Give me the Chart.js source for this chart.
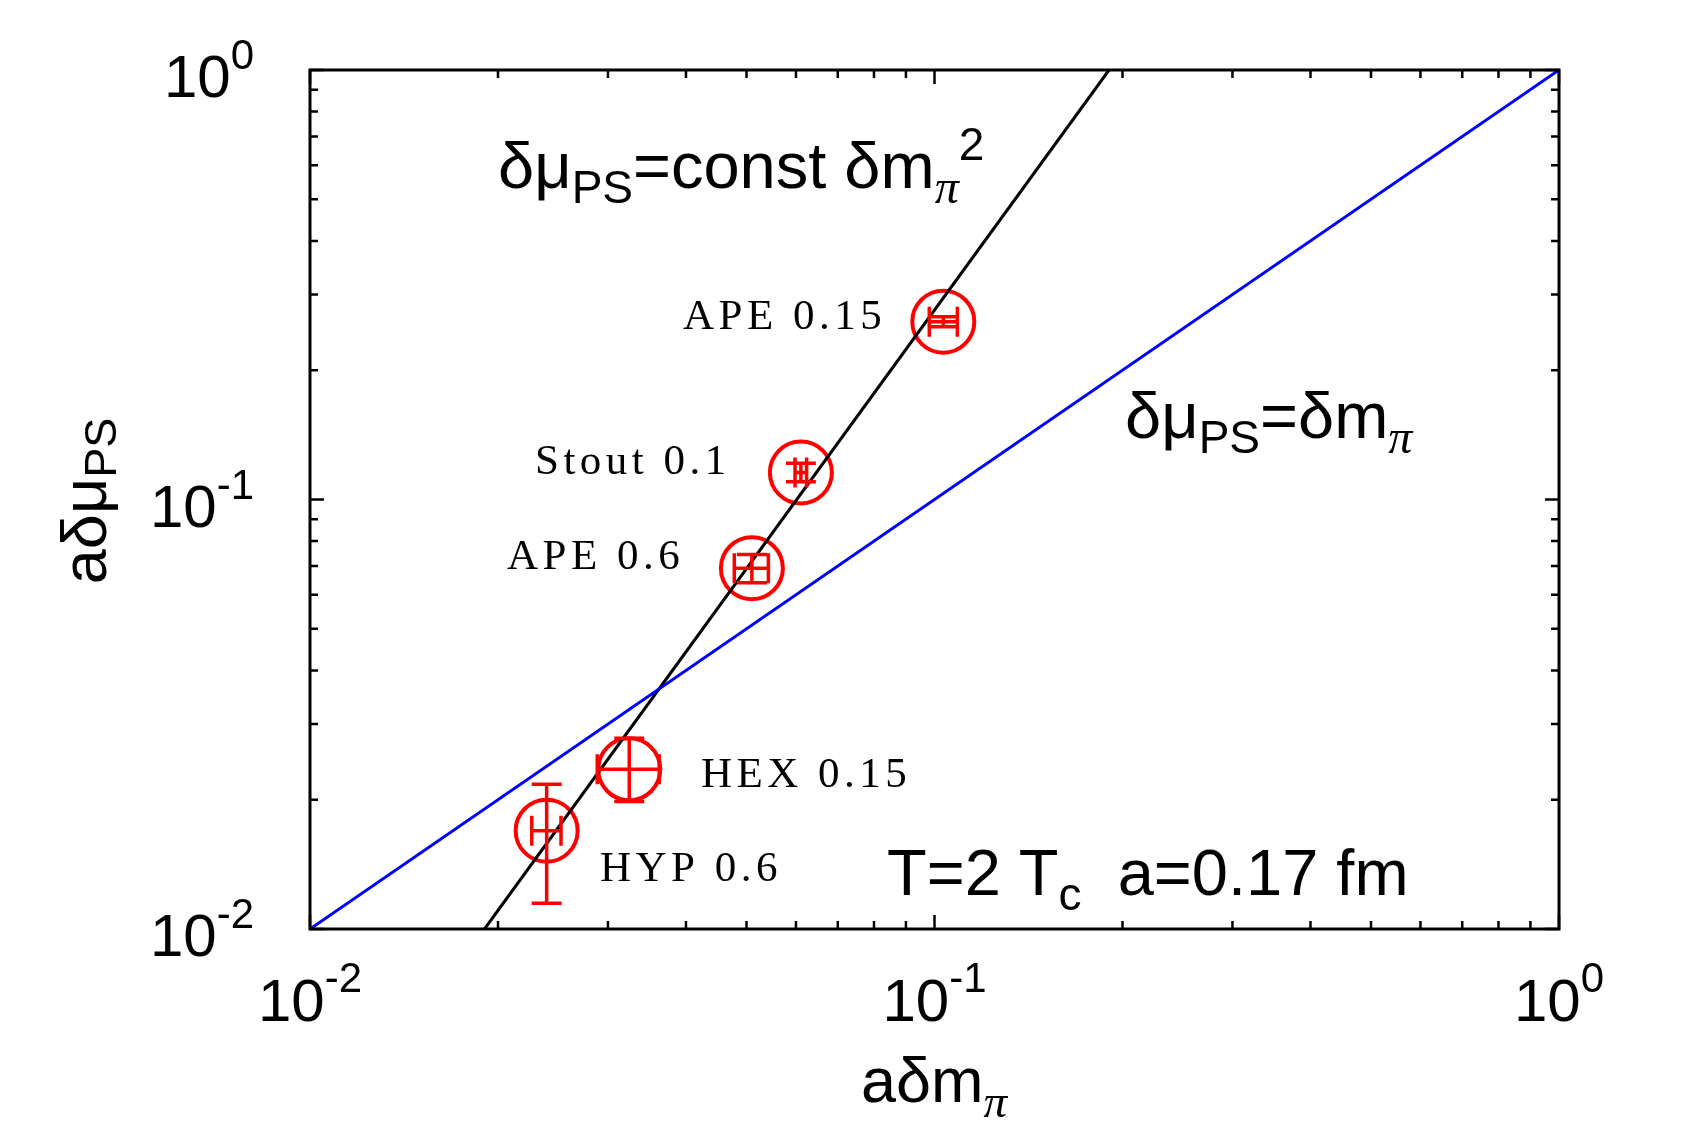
<!DOCTYPE html>
<html>
<head>
<meta charset="utf-8">
<script src="https://cdn.jsdelivr.net/npm/chart.js@4/dist/chart.umd.min.js"></script>
<style>
  html, body { margin: 0; padding: 0; background: #ffffff; }
  #wrap { width: 1691px; height: 1125px; }
</style>
</head>
<body>
<div id="wrap"><canvas id="c" width="1691" height="1125"></canvas></div>
<script>
// ---- data ----
const pointNames = ['APE 0.15', 'Stout 0.1', 'APE 0.6', 'HEX 0.15', 'HYP 0.6'];
const dmPi      = [0.1033, 0.0611, 0.0510, 0.03245, 0.02393];
const dmPiLo    = [0.0981, 0.0598, 0.0478, 0.02884, 0.02265];
const dmPiHi    = [0.1088, 0.0624, 0.0542, 0.03625, 0.02523];
const dmuPS     = [0.2594, 0.1156, 0.0692, 0.02354, 0.01694];
const dmuPSLo   = [0.2525, 0.1100, 0.0640, 0.0198, 0.01148];
const dmuPSHi   = [0.2665, 0.1215, 0.0745, 0.0278, 0.02172];

const equalLineX = [0.01, 1];
const equalLineY = [0.01, 1];
const quadLineX  = [0.01903, 0.1903];
const quadLineY  = [0.01, 1.0];

const majorTicks = [0.01, 0.1, 1];
const tickExponents = ['-2', '-1', '0'];
const minorMultipliers = [2, 3, 4, 5, 6, 7, 8, 9];

// ---- styles / layout ----
const SANS = '"Liberation Sans", Arial, sans-serif';
const SERIF = '"Liberation Serif", "Times New Roman", serif';
const RED = '#ff0000';

const pointLabelPos = [
  { x: 683, y: 329 },
  { x: 535, y: 474 },
  { x: 507, y: 569 },
  { x: 701, y: 787 },
  { x: 600, y: 881 }
];

function drawRuns(ctx, x, y, runs, align) {
  let total = 0;
  runs.forEach(r => { ctx.font = r.font; total += ctx.measureText(r.t).width + (r.gap || 0); });
  let cx = x;
  if (align === 'center') cx = x - total / 2;
  else if (align === 'right') cx = x - total;
  runs.forEach(r => {
    ctx.font = r.font;
    ctx.fillText(r.t, cx, y + (r.dy || 0));
    cx += ctx.measureText(r.t).width + (r.gap || 0);
  });
}

const decorPlugin = {
  id: 'decor',
  afterDatasetsDraw(chart) {
    const ctx = chart.ctx;
    const xs = chart.scales.x, ys = chart.scales.y;
    const a = chart.chartArea;
    ctx.save();

    // error bars
    ctx.strokeStyle = RED;
    ctx.lineWidth = 3.5;
    const cap = 15;
    for (let i = 0; i < dmPi.length; i++) {
      const px = xs.getPixelForValue(dmPi[i]);
      const py = ys.getPixelForValue(dmuPS[i]);
      const xl = xs.getPixelForValue(dmPiLo[i]);
      const xh = xs.getPixelForValue(dmPiHi[i]);
      const yl = ys.getPixelForValue(dmuPSLo[i]);
      const yh = ys.getPixelForValue(dmuPSHi[i]);
      ctx.beginPath();
      ctx.moveTo(xl, py); ctx.lineTo(xh, py);
      ctx.moveTo(xl, py - cap); ctx.lineTo(xl, py + cap);
      ctx.moveTo(xh, py - cap); ctx.lineTo(xh, py + cap);
      ctx.moveTo(px, yl); ctx.lineTo(px, yh);
      ctx.moveTo(px - cap, yl); ctx.lineTo(px + cap, yl);
      ctx.moveTo(px - cap, yh); ctx.lineTo(px + cap, yh);
      ctx.stroke();
    }

    // frame
    ctx.strokeStyle = '#000';
    ctx.lineWidth = 3;
    ctx.strokeRect(a.left, a.top, a.right - a.left, a.bottom - a.top);

    // ticks
    ctx.lineWidth = 2.5;
    const majLen = 14, minLen = 8;
    const drawTickX = (v, len) => {
      const p = xs.getPixelForValue(v);
      ctx.beginPath();
      ctx.moveTo(p, a.bottom); ctx.lineTo(p, a.bottom - len);
      ctx.moveTo(p, a.top); ctx.lineTo(p, a.top + len);
      ctx.stroke();
    };
    const drawTickY = (v, len) => {
      const p = ys.getPixelForValue(v);
      ctx.beginPath();
      ctx.moveTo(a.left, p); ctx.lineTo(a.left + len, p);
      ctx.moveTo(a.right, p); ctx.lineTo(a.right - len, p);
      ctx.stroke();
    };
    majorTicks.forEach((m, k) => {
      drawTickX(m, majLen); drawTickY(m, majLen);
      if (k < majorTicks.length - 1) {
        minorMultipliers.forEach(mm => { drawTickX(m * mm, minLen); drawTickY(m * mm, minLen); });
      }
    });

    // tick labels
    ctx.fillStyle = '#000';
    ctx.textBaseline = 'alphabetic';
    ctx.textAlign = 'left';
    const big = '60px ' + SANS, sup = '42px ' + SANS;
    majorTicks.forEach((m, k) => {
      const px = xs.getPixelForValue(m);
      drawRuns(ctx, px, a.bottom + 92, [
        { t: '10', font: big },
        { t: tickExponents[k], font: sup, dy: -29 }
      ], 'center');
      const py = ys.getPixelForValue(m);
      drawRuns(ctx, 254, py + 27, [
        { t: '10', font: big },
        { t: tickExponents[k], font: sup, dy: -28 }
      ], 'right');
    });

    // axis titles
    const ttl = '63px ' + SANS, ttlSub = '45px ' + SANS;
    drawRuns(ctx, 934, 1102, [
      { t: 'aδm', font: ttl },
      { t: 'π', font: 'italic 47px ' + SERIF, dy: 15 }
    ], 'center');
    ctx.save();
    ctx.translate(106, 501);
    ctx.rotate(-Math.PI / 2);
    drawRuns(ctx, 0, 0, [
      { t: 'aδμ', font: ttl },
      { t: 'PS', font: ttlSub, dy: 10 }
    ], 'center');
    ctx.restore();

    // formula annotations
    const ann = '65px ' + SANS, annSub = '46px ' + SANS, annPi = 'italic 48px ' + SERIF;
    drawRuns(ctx, 498, 188, [
      { t: 'δμ', font: ann },
      { t: 'PS', font: annSub, dy: 15 },
      { t: '=const δm', font: ann },
      { t: 'π', font: annPi, dy: 15 },
      { t: '2', font: annSub, dy: -28 }
    ], 'left');
    drawRuns(ctx, 1125, 438, [
      { t: 'δμ', font: ann },
      { t: 'PS', font: annSub, dy: 15 },
      { t: '=δm', font: ann },
      { t: 'π', font: annPi, dy: 15 }
    ], 'left');
    drawRuns(ctx, 887, 895, [
      { t: 'T=2 T', font: ann },
      { t: 'c', font: annSub, dy: 15 },
      { t: '  a=0.17 fm', font: ann }
    ], 'left');

    // point labels
    ctx.font = '43px ' + SERIF;
    try { ctx.letterSpacing = '4.5px'; } catch (e) {}
    pointNames.forEach((n, i) => {
      ctx.fillText(n, pointLabelPos[i].x, pointLabelPos[i].y);
    });
    try { ctx.letterSpacing = '0px'; } catch (e) {}

    ctx.restore();
  }
};

const toXY = (xs, ys) => xs.map((v, i) => ({ x: v, y: ys[i] }));

new Chart(document.getElementById('c'), {
  type: 'scatter',
  data: {
    datasets: [
      {
        label: 'equal',
        data: toXY(equalLineX, equalLineY),
        showLine: true,
        borderColor: '#0000ff',
        borderWidth: 3,
        pointRadius: 0
      },
      {
        label: 'quadratic',
        data: toXY(quadLineX, quadLineY),
        showLine: true,
        borderColor: '#000000',
        borderWidth: 3,
        pointRadius: 0
      },
      {
        label: 'points',
        data: toXY(dmPi, dmuPS),
        showLine: false,
        pointStyle: 'circle',
        pointRadius: 31,
        pointBorderWidth: 4,
        pointBorderColor: RED,
        pointBackgroundColor: 'rgba(0,0,0,0)',
        clip: false
      }
    ]
  },
  options: {
    responsive: false,
    animation: false,
    devicePixelRatio: 1,
    layout: { padding: { left: 310, top: 70, right: 132, bottom: 196 } },
    plugins: { legend: { display: false }, tooltip: { enabled: false } },
    events: [],
    scales: {
      x: { type: 'logarithmic', min: 0.01, max: 1, display: false },
      y: { type: 'logarithmic', min: 0.01, max: 1, display: false }
    }
  },
  plugins: [decorPlugin]
});
</script>
</body>
</html>
